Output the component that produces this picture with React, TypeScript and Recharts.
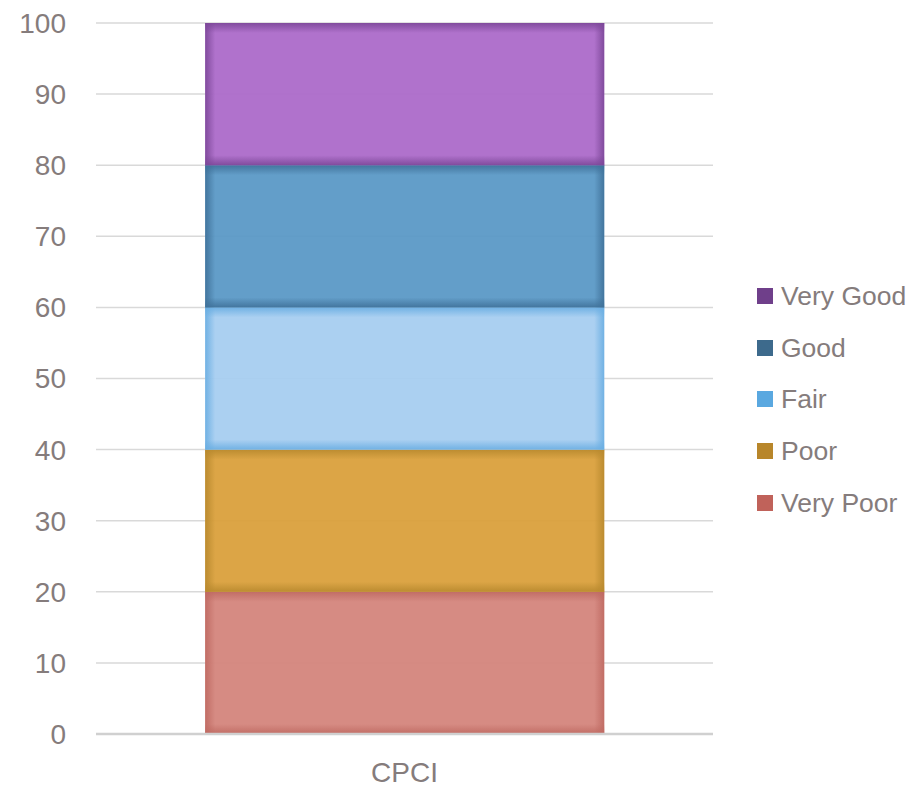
import React from 'react';
import { BarChart, Bar, XAxis, YAxis, CartesianGrid, Legend } from 'recharts';

const categories = ['CPCI'];
const veryPoor = [20];
const poor = [20];
const fair = [20];
const good = [20];
const veryGood = [20];
const yTicks = [0, 10, 20, 30, 40, 50, 60, 70, 80, 90, 100];

const seriesNames = ['Very Poor', 'Poor', 'Fair', 'Good', 'Very Good'];
const seriesKeys = ['veryPoor', 'poor', 'fair', 'good', 'veryGood'];
const fills = ['#d4857c', '#daa03c', '#a6cef0', '#5b99c6', '#ac6ac9'];
const edges = ['#bf6a62', '#b8892e', '#6aaee2', '#3f7199', '#7c4798'];
const legendColors = ['#c0625a', '#b8862a', '#5aa8e0', '#3d6a8c', '#6f3f8a'];

const data = categories.map((c, i) => ({
  name: c,
  veryPoor: veryPoor[i],
  poor: poor[i],
  fair: fair[i],
  good: good[i],
  veryGood: veryGood[i],
}));

const TEXT = '#857c7c';
const FONT = '"Liberation Sans", Arial, sans-serif';

const makeShape = (idx: number) => (props: any) => {
  const { x, y, width, height } = props;
  if (!width || !height) return null;
  return (
    <g>
      <rect x={x} y={y} width={width} height={height} fill={fills[idx]} fillOpacity={0.95} />
      <rect x={x} y={y} width={width} height={height} fill={`url(#h${idx})`} />
      <rect x={x} y={y} width={width} height={height} fill={`url(#v${idx})`} />
    </g>
  );
};

const LegendContent = () => {
  const order = [4, 3, 2, 1, 0];
  return (
    <div style={{ fontFamily: FONT, fontSize: 26.5, color: TEXT, whiteSpace: 'nowrap' }}>
      {order.map((i) => (
        <div key={i} style={{ display: 'flex', alignItems: 'center', height: 51.75 }}>
          <span style={{ display: 'inline-block', width: 16, height: 16, background: legendColors[i], marginRight: 8, flexShrink: 0 }} />
          <span style={{ lineHeight: '30px' }}>{seriesNames[i]}</span>
        </div>
      ))}
    </div>
  );
};

export default function App() {
  return (
    <div style={{ position: 'absolute', left: 0, top: 0, background: '#fff' }}>
      <BarChart
        width={908}
        height={788}
        data={data}
        margin={{ top: 23, right: 44, bottom: 0, left: 0 }}
        barCategoryGap="17.7%"
      >
        <defs>
          {fills.map((f, i) => (
            <React.Fragment key={i}>
              <linearGradient id={`h${i}`} x1="0" y1="0" x2="1" y2="0">
                <stop offset="0" stopColor={edges[i]} stopOpacity={0.9} />
                <stop offset="0.025" stopColor={edges[i]} stopOpacity={0} />
                <stop offset="0.975" stopColor={edges[i]} stopOpacity={0} />
                <stop offset="1" stopColor={edges[i]} stopOpacity={0.9} />
              </linearGradient>
              <linearGradient id={`v${i}`} x1="0" y1="0" x2="0" y2="1">
                <stop offset="0" stopColor={edges[i]} stopOpacity={0.9} />
                <stop offset="0.07" stopColor={edges[i]} stopOpacity={0} />
                <stop offset="0.93" stopColor={edges[i]} stopOpacity={0} />
                <stop offset="1" stopColor={edges[i]} stopOpacity={0.9} />
              </linearGradient>
            </React.Fragment>
          ))}
        </defs>
        <CartesianGrid vertical={false} stroke="#d9d9d9" strokeWidth={1.5} />
        <XAxis
          dataKey="name"
          height={54}
          tickLine={false}
          axisLine={{ stroke: '#d0d0d0', strokeWidth: 2.5 }}
          tickMargin={22}
          tick={{ fill: TEXT, fontSize: 28, fontFamily: FONT }}
        />
        <YAxis
          width={96}
          domain={[0, 100]}
          ticks={yTicks}
          interval={0}
          tickLine={false}
          axisLine={false}
          tickMargin={24}
          tick={{ fill: TEXT, fontSize: 28, fontFamily: FONT }}
        />
        <Legend
          layout="vertical"
          align="right"
          verticalAlign="top"
          content={<LegendContent />}
          wrapperStyle={{ left: 757, top: 270, width: 151 }}
        />
        {seriesKeys.map((k, i) => (
          <Bar
            key={k}
            dataKey={k}
            name={seriesNames[i]}
            stackId="a"
            fill={fills[i]}
            shape={makeShape(i)}
            isAnimationActive={false}
          />
        ))}
      </BarChart>
    </div>
  );
}
